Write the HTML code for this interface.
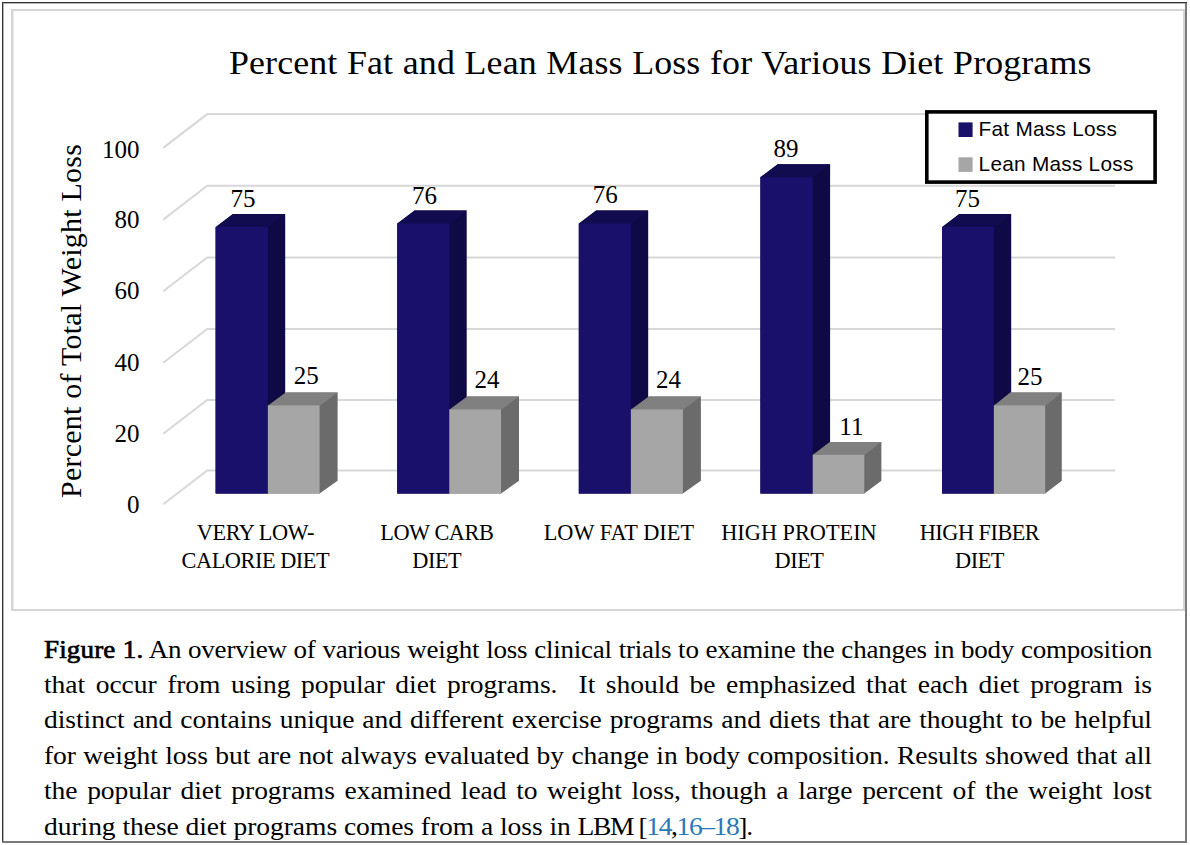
<!DOCTYPE html>
<html lang="en"><head><meta charset="utf-8"><title>Figure 1</title>
<style>
html,body{margin:0;padding:0;background:#fff;}
body{width:1190px;height:845px;position:relative;overflow:hidden;font-family:"Liberation Serif",serif;color:#000;}
.ob{position:absolute;background:#333;}
.chart{position:absolute;left:11px;top:9px;width:1174px;height:602px;border:2px solid #d5d5d5;box-sizing:border-box;box-shadow:inset 1px 0 0 #eeeeee;}
svg{position:absolute;left:0;top:0;}
.a{position:absolute;white-space:nowrap;line-height:1;}
.title{font-size:34.5px;left:228.8px;top:45.2px;width:829.3px;letter-spacing:0.1px;text-align:justify;text-align-last:justify;transform-origin:0 0;transform:scaleX(1.04);}
.tick{font-size:25px;width:40px;left:99.4px;text-align:right;}
.dl{font-size:25px;width:40px;text-align:center;}
.cat{font-size:22.3px;width:180px;text-align:center;line-height:27.9px;white-space:normal;letter-spacing:-0.45px;}
.ytitle{font-size:28.5px;left:0;top:0;letter-spacing:0.25px;transform-origin:0 0;transform:translate(57.7px,498.0px) rotate(-90deg) scaleX(1.05);}
.legend{position:absolute;left:928px;top:113px;width:226px;height:68px;font-family:"Liberation Sans",sans-serif;}
.lt{position:absolute;left:50.6px;font-size:20.8px;letter-spacing:0.25px;line-height:1;white-space:nowrap;}
.cap{position:absolute;left:44px;width:1055.2px;font-size:25.5px;letter-spacing:0.2px;line-height:1;white-space:nowrap;text-align:justify;text-align-last:justify;transform-origin:0 0;transform:scaleX(1.05);}
.cap.last{text-align-last:left;}
.cap b{font-weight:normal;-webkit-text-stroke:0.7px #000;letter-spacing:0.15px;}
.ref{color:#2a78b8;}
.tail{letter-spacing:-1.3px;}
</style></head><body>
<div class="ob" style="left:2px;top:2px;width:1px;height:841px"></div>
<div class="ob" style="left:3px;top:3px;width:1px;height:838px;background:#b4b4b4"></div>
<div class="ob" style="left:2px;top:2px;width:1185px;height:1px"></div>
<div class="ob" style="left:3px;top:3px;width:1182px;height:1px;background:#b4b4b4"></div>
<div class="ob" style="left:1185px;top:3px;width:2px;height:840px;background:#7a7a7a"></div>
<div class="ob" style="left:2px;top:841px;width:1185px;height:2px;background:#7a7a7a"></div>
<div class="chart"></div>
<svg width="1190" height="845" viewBox="0 0 1190 845">
<polyline points="163.2,147.9 207.2,114.1 1115.0,114.1" fill="none" stroke="#d8d8d8" stroke-width="2"/>
<polyline points="163.2,219.6 207.2,185.8 1115.0,185.8" fill="none" stroke="#d8d8d8" stroke-width="2"/>
<polyline points="163.2,291.2 207.2,257.4 1115.0,257.4" fill="none" stroke="#d8d8d8" stroke-width="2"/>
<polyline points="163.2,362.7 207.2,328.9 1115.0,328.9" fill="none" stroke="#d8d8d8" stroke-width="2"/>
<polyline points="163.2,433.8 207.2,400.0 1115.0,400.0" fill="none" stroke="#d8d8d8" stroke-width="2"/>
<polyline points="163.2,504.3 207.2,470.5 1115.0,470.5" fill="none" stroke="#d8d8d8" stroke-width="2"/>
<polygon points="215.6,227.0 232.9,214.1 285.2,214.1 285.2,480.7 267.9,493.6 215.6,493.6" fill="#0f0a45"/>
<polygon points="215.6,227.5 267.9,227.5 285.2,214.1 232.9,214.1" fill="#110c50"/>
<rect x="215.6" y="227.0" width="52.3" height="266.6" fill="#18106b"/>
<polygon points="267.9,405.4 285.9,392.5 337.6,392.5 337.6,480.7 319.6,493.6 267.9,493.6" fill="#6b6b6b"/>
<polygon points="267.9,405.9 319.6,405.9 337.6,392.5 285.9,392.5" fill="#808080"/>
<rect x="267.9" y="405.4" width="51.7" height="88.2" fill="#a6a6a6"/>
<polygon points="397.2,223.4 414.5,210.5 466.7,210.5 466.7,480.7 449.4,493.6 397.2,493.6" fill="#0f0a45"/>
<polygon points="397.2,223.9 449.4,223.9 466.7,210.5 414.5,210.5" fill="#110c50"/>
<rect x="397.2" y="223.4" width="52.2" height="270.2" fill="#18106b"/>
<polygon points="449.4,409.5 467.4,396.6 519.0,396.6 519.0,480.7 501.0,493.6 449.4,493.6" fill="#6b6b6b"/>
<polygon points="449.4,410.0 501.0,410.0 519.0,396.6 467.4,396.6" fill="#808080"/>
<rect x="449.4" y="409.5" width="51.6" height="84.1" fill="#a6a6a6"/>
<polygon points="578.8,223.4 596.1,210.5 648.2,210.5 648.2,480.7 630.9,493.6 578.8,493.6" fill="#0f0a45"/>
<polygon points="578.8,223.9 630.9,223.9 648.2,210.5 596.1,210.5" fill="#110c50"/>
<rect x="578.8" y="223.4" width="52.1" height="270.2" fill="#18106b"/>
<polygon points="630.9,409.5 648.9,396.6 700.9,396.6 700.9,480.7 682.9,493.6 630.9,493.6" fill="#6b6b6b"/>
<polygon points="630.9,410.0 682.9,410.0 700.9,396.6 648.9,396.6" fill="#808080"/>
<rect x="630.9" y="409.5" width="52.0" height="84.1" fill="#a6a6a6"/>
<polygon points="760.4,177.1 777.7,164.2 830.1,164.2 830.1,480.7 812.8,493.6 760.4,493.6" fill="#0f0a45"/>
<polygon points="760.4,177.6 812.8,177.6 830.1,164.2 777.7,164.2" fill="#110c50"/>
<rect x="760.4" y="177.1" width="52.4" height="316.5" fill="#18106b"/>
<polygon points="812.8,454.8 829.9,441.9 881.4,441.9 881.4,480.7 864.3,493.6 812.8,493.6" fill="#6b6b6b"/>
<polygon points="812.8,455.2 864.3,455.2 881.4,441.9 829.9,441.9" fill="#808080"/>
<rect x="812.8" y="454.8" width="51.5" height="38.9" fill="#a6a6a6"/>
<polygon points="942.0,227.0 959.3,214.1 1011.2,214.1 1011.2,480.7 993.9,493.6 942.0,493.6" fill="#0f0a45"/>
<polygon points="942.0,227.5 993.9,227.5 1011.2,214.1 959.3,214.1" fill="#110c50"/>
<rect x="942.0" y="227.0" width="51.9" height="266.6" fill="#18106b"/>
<polygon points="993.9,405.4 1010.5,392.5 1061.8,392.5 1061.8,480.7 1045.2,493.6 993.9,493.6" fill="#6b6b6b"/>
<polygon points="993.9,405.9 1045.2,405.9 1061.8,392.5 1010.5,392.5" fill="#808080"/>
<rect x="993.9" y="405.4" width="51.3" height="88.2" fill="#a6a6a6"/>
<rect x="926.8" y="111.9" width="228.3" height="70.2" fill="#fff" stroke="#000" stroke-width="3.6"/><rect x="958.5" y="122.4" width="14.1" height="14.6" fill="#18106b"/><rect x="958.5" y="157.3" width="14.1" height="14.6" fill="#a6a6a6"/>
</svg>
<div class="a title">Percent Fat and Lean Mass Loss for Various Diet Programs</div>
<div class="a ytitle">Percent of Total Weight Loss</div>
<div class="a tick" style="top:136.9px">100</div>
<div class="a tick" style="top:207.3px">80</div>
<div class="a tick" style="top:278.3px">60</div>
<div class="a tick" style="top:349.9px">40</div>
<div class="a tick" style="top:420.7px">20</div>
<div class="a tick" style="top:492.1px">0</div>
<div class="a dl" style="left:222.9px;top:186.1px">75</div>
<div class="a dl" style="left:286.3px;top:363.1px">25</div>
<div class="a dl" style="left:404.4px;top:182.6px">76</div>
<div class="a dl" style="left:466.9px;top:367.4px">24</div>
<div class="a dl" style="left:585.2px;top:182.3px">76</div>
<div class="a dl" style="left:648.5px;top:367.4px">24</div>
<div class="a dl" style="left:766.0px;top:136.1px">89</div>
<div class="a dl" style="left:831.4px;top:413.8px">11</div>
<div class="a dl" style="left:947.4px;top:185.8px">75</div>
<div class="a dl" style="left:1009.9px;top:363.9px">25</div>
<div class="a cat" style="left:165.4px;top:518.8px"><span style="letter-spacing:-0.45px">VERY LOW-</span><br><span style="letter-spacing:-0.45px">CALORIE DIET</span></div>
<div class="a cat" style="left:346.8px;top:518.8px"><span style="letter-spacing:-0.45px">LOW CARB</span><br><span style="letter-spacing:-0.45px">DIET</span></div>
<div class="a cat" style="left:528.9px;top:518.8px"><span style="letter-spacing:0.05px">LOW FAT DIET</span></div>
<div class="a cat" style="left:709.0px;top:518.8px"><span style="letter-spacing:0.0px">HIGH PROTEIN</span><br><span style="letter-spacing:-0.45px">DIET</span></div>
<div class="a cat" style="left:889.5px;top:518.8px"><span style="letter-spacing:-0.5px">HIGH FIBER</span><br><span style="letter-spacing:-0.45px">DIET</span></div>
<div class="legend">
<div class="lt" style="top:6.1px">Fat Mass Loss</div>
<div class="lt" style="top:41.1px">Lean Mass Loss</div>
</div>
<div class="cap" style="top:636.9px;width:1045.3px;letter-spacing:-0.22px;transform:scaleX(1.06)"><b>Figure 1.</b> An overview of various weight loss clinical trials to examine the changes in body composition</div>
<div class="cap" style="top:672.2px;width:1025.9px;letter-spacing:-0.05px;transform:scaleX(1.08)">that occur from using popular diet programs.&nbsp; It should be emphasized that each diet program is</div>
<div class="cap" style="top:707.2px;width:1025.9px;letter-spacing:-0.05px;transform:scaleX(1.08)">distinct and contains unique and different exercise programs and diets that are thought to be helpful</div>
<div class="cap" style="top:742.7px;width:1025.9px;letter-spacing:-0.05px;transform:scaleX(1.08)">for weight loss but are not always evaluated by change in body composition. Results showed that all</div>
<div class="cap" style="top:778.2px;width:1025.9px;letter-spacing:-0.05px;transform:scaleX(1.08)">the popular diet programs examined lead to weight loss, though a large percent of the weight lost</div>
<div class="cap last" style="top:813.5px;width:1025.9px;letter-spacing:-0.05px;transform:scaleX(1.08)">during these diet programs comes from a loss in <span class="tail">LBM [<span class="ref">14</span>,<span class="ref">16–18</span>].</span></div>
</body></html>
